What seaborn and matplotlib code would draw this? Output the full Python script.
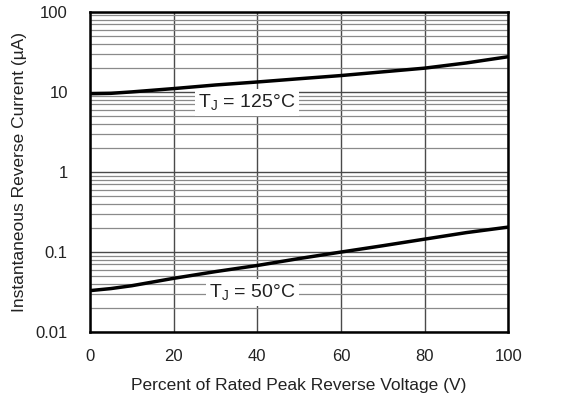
"""
Reverse current vs percent of rated peak reverse voltage
"""

import numpy as np
import pandas as pd
import seaborn as sns
import matplotlib.pyplot as plt
from matplotlib.ticker import LogLocator, FixedLocator, NullFormatter

# values
voltage_pct = [0, 5, 10, 20, 30, 40, 50, 60, 70, 80, 90, 100]
current_125 = [9.5, 9.6, 10.0, 11.0, 12.2, 13.3, 14.6, 16.0, 17.8, 19.8, 23.0, 27.5]
current_50 = [0.033, 0.035, 0.038, 0.047, 0.057, 0.068, 0.083, 0.100, 0.120, 0.145, 0.175, 0.205]

label_125 = "T$_\\mathregular{J}$ = 125°C"
label_50 = "T$_\\mathregular{J}$ = 50°C"

sns.set_style("white")
plt.rcParams['font.family'] = ['Liberation Sans', 'DejaVu Sans']

df = pd.DataFrame({
    'Voltage': voltage_pct * 2,
    'Current': current_125 + current_50,
    'Tj': ['125'] * len(voltage_pct) + ['50'] * len(voltage_pct),
})

fig = plt.figure(figsize=(5.66, 3.94), dpi=100)
ax = fig.add_axes([0.159, 0.157, 0.739, 0.813])

ax.set_yscale('log')
ax.set_xlim(0, 100)
ax.set_ylim(0.01, 100)

# grid: major x, major + minor log y
ax.xaxis.set_major_locator(FixedLocator([0, 20, 40, 60, 80, 100]))
ax.yaxis.set_major_locator(LogLocator(base=10))
ax.yaxis.set_minor_locator(LogLocator(base=10, subs=np.arange(2, 10)))
ax.yaxis.set_minor_formatter(NullFormatter())
ax.set_yticks([0.01, 0.1, 1, 10, 100])
ax.set_yticklabels(['0.01', '0.1', '1', '10', '100'])
ax.grid(True, which='major', axis='both', color='#4a4a4a', lw=1.0)
ax.grid(True, which='minor', axis='y', color='#8a8a8a', lw=0.9)
ax.set_axisbelow(True)

sns.lineplot(data=df, x='Voltage', y='Current', hue='Tj', palette=['black', 'black'],
             linewidth=2.5, legend=False, ax=ax)

box = dict(facecolor='white', edgecolor='none', pad=2.5)
ax.text(37.5, 7.3, label_125, ha='center', va='center', fontsize=14, color='#222222', bbox=box)
ax.text(38.8, 0.031, label_50, ha='center', va='center', fontsize=14, color='#222222', bbox=box)

for s in ax.spines.values():
    s.set_linewidth(1.8)
    s.set_color('black')

ax.tick_params(axis='y', which='both', length=0, labelsize=12, pad=16, colors='#222222')
ax.tick_params(axis='x', which='both', length=0, labelsize=12, pad=12, colors='#222222')
ax.set_xlabel('Percent of Rated Peak Reverse Voltage (V)', fontsize=12.5, labelpad=10, color='#222222')
ax.set_ylabel('Instantaneous Reverse Current (µA)', fontsize=12.5, labelpad=6, color='#222222')

fig.savefig('out.png', dpi=100)
